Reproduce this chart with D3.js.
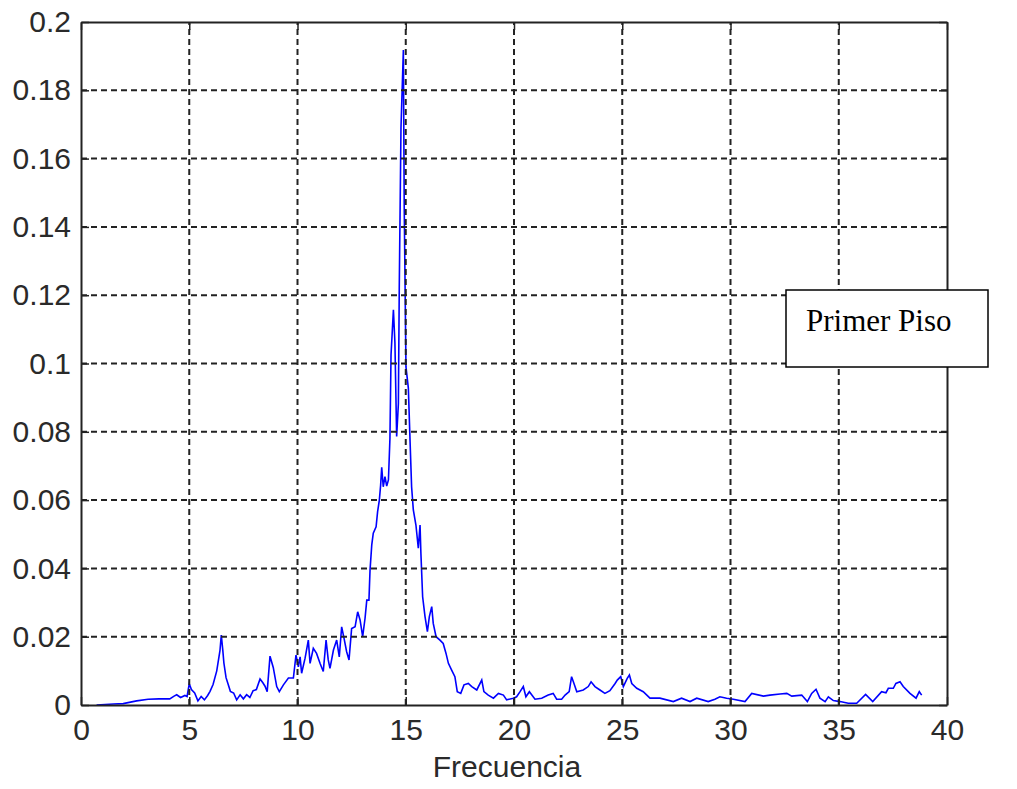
<!DOCTYPE html>
<html>
<head>
<meta charset="utf-8">
<script src="https://cdn.jsdelivr.net/npm/d3@7"></script>
<style>
  body { margin: 0; background: #fff; }
  svg { display: block; }
</style>
</head>
<body>
<div id="chart"></div>
<script>
const WIDTH = 1017, HEIGHT = 789;
const margin = { top: 22, right: 70, bottom: 84, left: 81 };

// frequency (Hz) and amplitude
const freq = [0.72, 1.5, 1.95, 2.57, 3.1, 3.6, 4.1, 4.3, 4.42, 4.6, 4.8, 4.9, 5.0, 5.1, 5.25, 5.4, 5.55, 5.7, 5.85, 5.96,
  6.1, 6.27, 6.42, 6.48, 6.55, 6.6, 6.7, 6.9, 7.05, 7.19, 7.35, 7.5, 7.65, 7.8, 7.95, 8.1, 8.27, 8.4, 8.5, 8.6,
  8.73, 8.88, 9.04, 9.16, 9.35, 9.58, 9.81, 9.93, 10.04, 10.12, 10.19, 10.35, 10.5, 10.58, 10.73, 10.88, 11.04, 11.19, 11.32, 11.42,
  11.5, 11.66, 11.81, 11.93, 12.04, 12.15, 12.27, 12.38, 12.5, 12.66, 12.78, 12.89, 13.01, 13.12, 13.2, 13.3, 13.35, 13.43, 13.5, 13.63,
  13.7, 13.78, 13.84, 13.89, 13.96, 14.04, 14.12, 14.2, 14.27, 14.32, 14.43, 14.5, 14.58, 14.66, 14.7, 14.78, 14.89, 14.93, 15.01, 15.12,
  15.2, 15.27, 15.35, 15.47, 15.58, 15.66, 15.7, 15.78, 15.89, 16.0, 16.09, 16.2, 16.27, 16.4, 16.58, 16.73, 16.86, 16.97, 17.12, 17.27,
  17.38, 17.54, 17.69, 17.89, 18.05, 18.28, 18.51, 18.61, 18.81, 19.05, 19.28, 19.51, 19.66, 19.97, 20.12, 20.28, 20.43, 20.55, 20.71, 20.97,
  21.28, 21.58, 21.81, 21.97, 22.2, 22.36, 22.55, 22.66, 22.77, 22.9, 23.2, 23.43, 23.56, 23.74, 23.97, 24.2, 24.43, 24.67, 24.77, 24.93,
  25.05, 25.23, 25.33, 25.44, 25.67, 25.97, 26.28, 26.74, 27.36, 27.74, 28.13, 28.44, 28.97, 29.28, 29.51, 29.82, 30.13, 30.67, 30.98, 31.52,
  31.82, 32.29, 32.6, 32.83, 33.29, 33.55, 33.75, 33.95, 34.13, 34.37, 34.52, 34.75, 35.06, 35.44, 35.83, 36.24, 36.57, 36.98, 37.18, 37.29,
  37.52, 37.64, 37.83, 37.98, 38.29, 38.57, 38.72, 38.83];
const amp = [0, 0.0003, 0.0004, 0.0012, 0.0017, 0.0018, 0.0018, 0.0026, 0.003, 0.0022, 0.0028, 0.0025, 0.0062, 0.0045, 0.0035, 0.0012, 0.0025, 0.0015, 0.0028, 0.004,
  0.006, 0.010, 0.016, 0.0205, 0.016, 0.0123, 0.008, 0.004, 0.0035, 0.0015, 0.003, 0.0018, 0.003, 0.0022, 0.0042, 0.0045, 0.0076, 0.0065, 0.0055, 0.0039,
  0.0143, 0.011, 0.0054, 0.0039, 0.0059, 0.0079, 0.0079, 0.0146, 0.0112, 0.0141, 0.0093, 0.0137, 0.019, 0.0122, 0.0166, 0.0151, 0.0122, 0.0098, 0.019, 0.0132,
  0.0107, 0.0161, 0.019, 0.0141, 0.0229, 0.0195, 0.0156, 0.0132, 0.0224, 0.0229, 0.0273, 0.0249, 0.02, 0.0254, 0.0307, 0.0307, 0.0395, 0.0469, 0.0503, 0.0522,
  0.0566, 0.06, 0.0644, 0.0696, 0.0639, 0.0669, 0.0641, 0.0659, 0.0781, 0.1025, 0.1157, 0.106, 0.0786, 0.0883, 0.122, 0.169, 0.1918, 0.1455, 0.099, 0.0928,
  0.0771, 0.0639, 0.0571, 0.0527, 0.0459, 0.0527, 0.0444, 0.0317, 0.0259, 0.0215, 0.0259, 0.0288, 0.0239, 0.02, 0.019, 0.018, 0.0151, 0.0122, 0.0102, 0.0083,
  0.0039, 0.0034, 0.0059, 0.0063, 0.0054, 0.0044, 0.0073, 0.0039, 0.0029, 0.002, 0.0034, 0.0029, 0.0015, 0.002, 0.0024, 0.0039, 0.0054, 0.0024, 0.0039, 0.0017,
  0.002, 0.0029, 0.0034, 0.0017, 0.0017, 0.0029, 0.0039, 0.0083, 0.0063, 0.0039, 0.0044, 0.0054, 0.0068, 0.0054, 0.0044, 0.0034, 0.0042, 0.0063, 0.0073, 0.0083,
  0.0054, 0.0078, 0.0088, 0.0063, 0.0049, 0.0039, 0.002, 0.002, 0.001, 0.002, 0.001, 0.002, 0.001, 0.0017, 0.0024, 0.002, 0.0017, 0.001, 0.0034, 0.0026,
  0.0029, 0.0032, 0.0034, 0.0026, 0.0029, 0.001, 0.0034, 0.0046, 0.002, 0.001, 0.0024, 0.0013, 0.001, 0.0005, 0.0005, 0.0031, 0.001, 0.0039, 0.0036, 0.0049,
  0.0049, 0.0063, 0.0068, 0.0054, 0.0034, 0.002, 0.0039, 0.0029];

const xTicks = [0, 5, 10, 15, 20, 25, 30, 35, 40];
const yTicks = [0, 0.02, 0.04, 0.06, 0.08, 0.1, 0.12, 0.14, 0.16, 0.18, 0.2];
const xLabel = "Frecuencia";
const legendText = "Primer Piso";

const data = freq.map((f, i) => ({ f: f, a: amp[i] }));

const svg = d3.select("#chart")
    .append("svg")
    .attr("width", WIDTH)
    .attr("height", HEIGHT)

const x = d3.scaleLinear().domain([0, 40]).range([margin.left, WIDTH - margin.right]);
const y = d3.scaleLinear().domain([0, 0.2]).range([HEIGHT - margin.bottom, margin.top]);
const x0 = x.range()[0], x1 = x.range()[1], y0 = y.range()[0], y1 = y.range()[1];

// the curve
svg.append("path")
    .datum(data)
    .attr("fill", "none")
    .attr("stroke", "#0000ff")
    .attr("stroke-width", 1.6)
    .attr("d", d3.line().x(d => x(d.f)).y(d => y(d.a)))

// dashed grid (drawn over the curve like matlab does)
const grid = svg.append("g")
    .attr("stroke", "#222")
    .attr("stroke-width", 2)
    .attr("stroke-dasharray", "6,4")
grid.selectAll(".gx").data(xTicks.slice(1, -1)).enter().append("line")
    .attr("x1", d => x(d)).attr("x2", d => x(d))
    .attr("y1", y0).attr("y2", y1)
grid.selectAll(".gy").data(yTicks.slice(1, -1)).enter().append("line")
    .attr("x1", x0).attr("x2", x1)
    .attr("y1", d => y(d)).attr("y2", d => y(d))

// axes with inward ticks
const axisStyle = g => {
    g.select(".domain").attr("stroke", "#222").attr("stroke-width", 2);
    g.selectAll(".tick line").attr("stroke", "#222").attr("stroke-width", 1.5);
    g.selectAll("text")
        .attr("fill", "#2a2a2a")
        .style("font-family", "'Liberation Sans', Arial, sans-serif")
        .style("font-size", "30px");
}
svg.append("g")
    .attr("transform", `translate(0,${y0})`)
    .call(d3.axisBottom(x).tickValues(xTicks).tickFormat(d3.format("d")).tickSizeInner(-8).tickSizeOuter(0).tickPadding(14))
    .call(axisStyle)
svg.append("g")
    .attr("transform", `translate(0,${y1})`)
    .call(d3.axisTop(x).tickValues(xTicks).tickFormat("").tickSizeInner(-8).tickSizeOuter(0))
    .call(axisStyle)
svg.append("g")
    .attr("transform", `translate(${x0},0)`)
    .call(d3.axisLeft(y).tickValues(yTicks).tickFormat(d => d === 0 ? "0" : String(+d.toFixed(2))).tickSizeInner(-8).tickSizeOuter(0).tickPadding(10))
    .call(axisStyle)
svg.append("g")
    .attr("transform", `translate(${x1},0)`)
    .call(d3.axisRight(y).tickValues(yTicks).tickFormat("").tickSizeInner(-8).tickSizeOuter(0))
    .call(axisStyle)

svg.append("text")
    .attr("x", 507)
    .attr("y", 777)
    .attr("text-anchor", "middle")
    .attr("fill", "#2a2a2a")
    .style("font-family", "'Liberation Sans', Arial, sans-serif")
    .style("font-size", "30px")
    .text(xLabel)

// text box
svg.append("rect")
    .attr("x", 786).attr("y", 290)
    .attr("width", 202).attr("height", 77)
    .attr("fill", "#fff")
    .attr("stroke", "#000")
    .attr("stroke-width", 1.5)
svg.append("text")
    .attr("x", 806).attr("y", 331)
    .attr("fill", "#000")
    .style("font-family", "'Liberation Serif', 'Times New Roman', serif")
    .style("font-size", "31px")
    .text(legendText)
</script>
</body>
</html>
